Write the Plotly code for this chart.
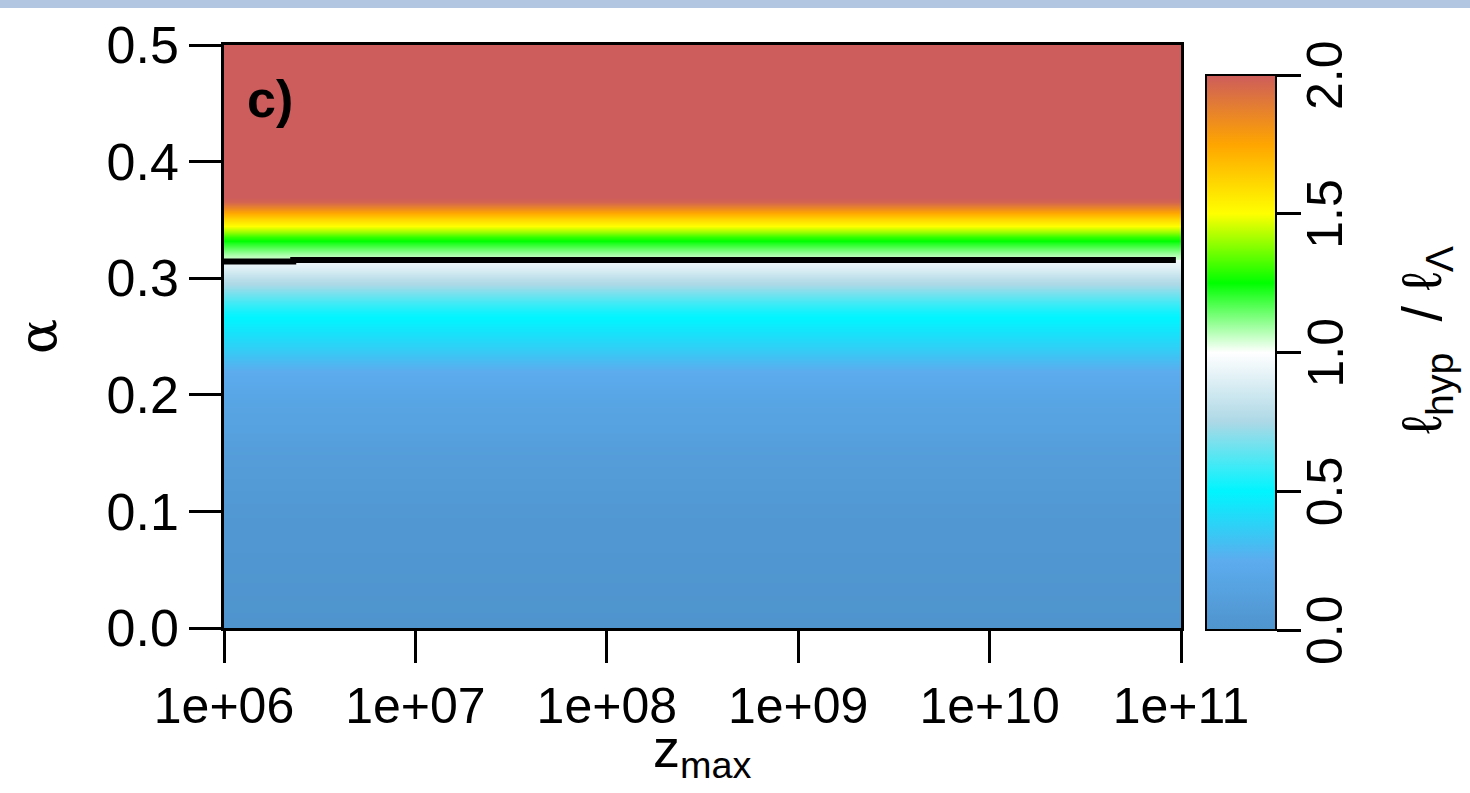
import plotly.graph_objects as go

# ---- data ----
z_max = [1e6, 1e7, 1e8, 1e9, 1e10, 1e11]
alpha = [0.0, 0.05, 0.10, 0.15, 0.20, 0.22, 0.24, 0.26, 0.27, 0.28, 0.29, 0.30,
         0.305, 0.31, 0.3155, 0.3157, 0.32, 0.325, 0.33, 0.335, 0.34, 0.345,
         0.35, 0.355, 0.36, 0.365, 0.37, 0.40, 0.45, 0.50]
ratio = [0.00, 0.02, 0.05, 0.10, 0.19, 0.25, 0.37, 0.47, 0.52, 0.60, 0.70, 0.80,
         0.86, 0.91, 0.96, 1.04, 1.08, 1.15, 1.22, 1.30, 1.40, 1.50,
         1.60, 1.72, 1.85, 1.97, 2.00, 2.00, 2.00, 2.00]
boundary_z = [1e6, 2.3e6, 2.3e6, 9.4e10]
boundary_alpha = [0.3143, 0.3143, 0.3156, 0.3156]
x_tick_vals = [1e6, 1e7, 1e8, 1e9, 1e10, 1e11]
x_tick_text = ["1e+06", "1e+07", "1e+08", "1e+09", "1e+10", "1e+11"]
y_tick_vals = [0.0, 0.1, 0.2, 0.3, 0.4, 0.5]
y_tick_text = ["0.0", "0.1", "0.2", "0.3", "0.4", "0.5"]
cb_tick_vals = [0.0, 0.5, 1.0, 1.5, 2.0]
cb_tick_text = ["0.0", "0.5", "1.0", "1.5", "2.0"]

z_grid = [[r for _ in z_max] for r in ratio]

colorscale = [
    [0.000, "rgb(79,148,205)"],
    [0.125, "rgb(92,172,238)"],
    [0.250, "rgb(0,245,255)"],
    [0.375, "rgb(173,216,230)"],
    [0.500, "rgb(255,255,255)"],
    [0.625, "rgb(0,255,0)"],
    [0.750, "rgb(255,255,0)"],
    [0.875, "rgb(255,165,0)"],
    [1.000, "rgb(205,92,92)"],
]

W, H = 1470, 793
L, R, T, B = 224, 1470 - 1181, 45, 793 - 628
pw, ph = W - L - R, H - T - B

font_main = "Liberation Sans, Arial, sans-serif"

cb_top_px, cb_bot_px = 75, 630
cb_y = (628 - cb_top_px) / ph
cb_len = (cb_bot_px - cb_top_px) / ph

fig = go.Figure()
fig.add_trace(go.Heatmap(
    x=z_max, y=alpha, z=z_grid, zmin=0, zmax=2, zsmooth="best",
    colorscale=colorscale,
    colorbar=dict(
        x=(1206 - L) / pw, xanchor="left", xpad=0,
        y=cb_y, yanchor="top", ypad=0,
        len=cb_len, lenmode="fraction",
        thickness=70, thicknessmode="pixels",
        outlinewidth=2, outlinecolor="black",
        tickmode="array", tickvals=cb_tick_vals, ticktext=cb_tick_text,
        ticks="outside", ticklen=24, tickwidth=2.5, tickcolor="black",
        showticklabels=False,
    ),
    hoverinfo="skip",
))
fig.add_trace(go.Scatter(
    x=boundary_z, y=boundary_alpha, mode="lines",
    line=dict(color="black", width=6), showlegend=False, hoverinfo="skip",
))

fig.update_xaxes(
    type="log", range=[6, 11],
    tickmode="array", tickvals=x_tick_vals, ticktext=x_tick_text,
    ticks="outside", ticklen=32, tickwidth=2.5, tickcolor="black",
    showline=True, linewidth=2.5, linecolor="black", mirror=True,
    showgrid=False, zeroline=False,
    tickfont=dict(family=font_main, size=50, color="black"),
)
fig.update_yaxes(
    range=[0, 0.5],
    tickmode="array", tickvals=y_tick_vals, ticktext=y_tick_text,
    ticks="outside", ticklen=32, tickwidth=2.5, tickcolor="black",
    showline=True, linewidth=2.5, linecolor="black", mirror=True,
    showgrid=False, zeroline=False,
    tickfont=dict(family=font_main, size=52, color="black"),
    title=dict(text="α", standoff=34,
               font=dict(family="DejaVu Serif, serif", size=52, color="black")),
)

# colorbar tick labels (rotated, as in the original)
for v, t in zip(cb_tick_vals, cb_tick_text):
    ypos = cb_y - (2.0 - v) / 2.0 * cb_len
    fig.add_annotation(
        x=(1325 - L) / pw, y=ypos, xref="paper", yref="paper",
        xanchor="center", yanchor="middle", showarrow=False, textangle=-90,
        text=t, font=dict(family=font_main, size=50, color="black"),
    )

# colorbar title
fig.add_annotation(
    x=(1425 - L) / pw, y=(628 - 340) / ph, xref="paper", yref="paper",
    xanchor="center", yanchor="middle", showarrow=False, textangle=-90,
    text="ℓ<sub>hyp</sub>  / ℓ<sub>Λ</sub>",
    font=dict(family=font_main, size=56, color="black"),
)

# x-axis title
fig.add_annotation(
    x=0.5, y=(628 - 752) / ph, xref="paper", yref="paper",
    xanchor="center", yanchor="middle", showarrow=False,
    text="z<sub>max</sub>", font=dict(family=font_main, size=54, color="black"),
)

fig.add_annotation(
    x=(245 - L) / pw, y=(628 - 68) / ph, xref="paper", yref="paper",
    xanchor="left", yanchor="top", showarrow=False,
    text="<b>c)</b>", font=dict(family=font_main, size=52, color="black"),
)

# screenshot border strip at the top
fig.add_shape(type="rect", xref="paper", yref="paper",
              x0=-L / pw, x1=(W - L) / pw, y0=(628 - 8) / ph, y1=628 / ph,
              fillcolor="rgb(178,198,226)", line=dict(width=0), layer="below")

fig.update_layout(
    width=W, height=H,
    margin=dict(l=L, r=R, t=T, b=B, pad=0),
    paper_bgcolor="white", plot_bgcolor="white",
    showlegend=False,
)

fig.write_html("out.html")
